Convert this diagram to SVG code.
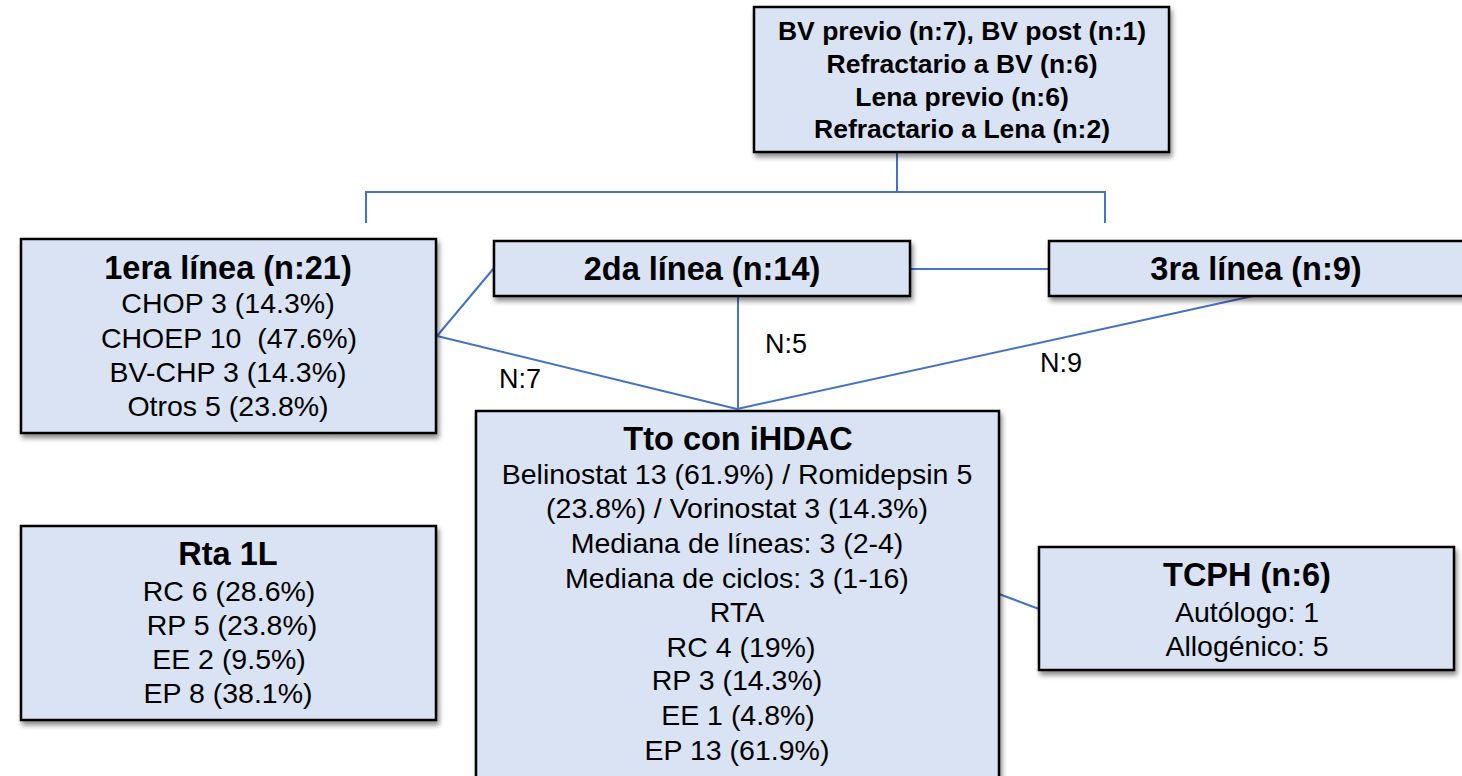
<svg xmlns="http://www.w3.org/2000/svg" width="1462" height="776" viewBox="0 0 1462 776">
<defs>
<filter id="sh" x="-5%" y="-5%" width="115%" height="125%">
<feDropShadow dx="2" dy="4" stdDeviation="2.5" flood-color="#000" flood-opacity="0.45"/>
</filter>
<style>
.box{fill:#DAE3F3;stroke:#000;stroke-width:2.5;filter:url(#sh)}
.t{font-family:"Liberation Sans",Arial,sans-serif;fill:#000;text-anchor:middle}
.r{font-size:28.5px}
.b{font-size:32.5px;font-weight:bold}
.tb{font-size:26.5px;font-weight:bold}
.lbl{font-family:"Liberation Sans",Arial,sans-serif;font-size:27px;fill:#000}
.c{fill:none;stroke:#4472C4;stroke-width:2}
.pre{white-space:pre}
</style>
</defs>
<rect width="1462" height="776" fill="#fff"/>
<g id="connectors">
<path class="c" d="M897,152 V192 M366,223 V192 H1105 V223"/>
<path class="c" d="M437,336 L494,268"/>
<path class="c" d="M437,336 L737,409"/>
<path class="c" d="M738,296 V409"/>
<path class="c" d="M1253,296 L737,409"/>
<path class="c" d="M910,269 H1049"/>
<path class="c" d="M999,594 L1039,609"/>
<text class="lbl" x="499" y="388">N:7</text>
<text class="lbl" x="765" y="353">N:5</text>
<text class="lbl" x="1040" y="372">N:9</text>
</g>
<g id="top">
<rect class="box" x="754" y="7" width="415" height="145"/>
<text class="t tb" x="962" y="40">BV previo (n:7), BV post (n:1)</text>
<text class="t tb" x="962" y="73">Refractario a BV (n:6)</text>
<text class="t tb" x="962" y="106">Lena previo (n:6)</text>
<text class="t tb" x="962" y="138">Refractario a Lena (n:2)</text>
</g>
<g id="linea1">
<rect class="box" x="21" y="239" width="415" height="194"/>
<text class="t b" x="228" y="279">1era línea (n:21)</text>
<text class="t r" x="228" y="313">CHOP 3 (14.3%)</text>
<text class="t r pre" x="229" y="348" xml:space="preserve">CHOEP 10  (47.6%)</text>
<text class="t r" x="228" y="382">BV-CHP 3 (14.3%)</text>
<text class="t r" x="228" y="416">Otros 5 (23.8%)</text>
</g>
<g id="linea2">
<rect class="box" x="494" y="241" width="416" height="55"/>
<text class="t b" x="702" y="280">2da línea (n:14)</text>
</g>
<g id="linea3">
<rect class="box" x="1049" y="241" width="416" height="55"/>
<text class="t b" x="1256" y="280">3ra línea (n:9)</text>
</g>
<g id="rta1l">
<rect class="box" x="21" y="526" width="415" height="194"/>
<text class="t b" x="228" y="565">Rta 1L</text>
<text class="t r" x="229" y="601">RC 6 (28.6%)</text>
<text class="t r" x="232" y="635">RP 5 (23.8%)</text>
<text class="t r" x="229" y="669">EE 2 (9.5%)</text>
<text class="t r" x="228" y="703">EP 8 (38.1%)</text>
</g>
<g id="tto">
<rect class="box" x="476" y="411" width="523" height="380"/>
<text class="t b" x="738" y="450">Tto con iHDAC</text>
<text class="t r" x="737" y="484">Belinostat 13 (61.9%) / Romidepsin 5</text>
<text class="t r" x="737" y="518">(23.8%) / Vorinostat 3 (14.3%)</text>
<text class="t r" x="737" y="553">Mediana de líneas: 3 (2-4)</text>
<text class="t r" x="737" y="588">Mediana de ciclos: 3 (1-16)</text>
<text class="t r" x="737" y="622">RTA</text>
<text class="t r" x="741" y="657">RC 4 (19%)</text>
<text class="t r" x="737" y="690">RP 3 (14.3%)</text>
<text class="t r" x="738" y="725">EE 1 (4.8%)</text>
<text class="t r" x="737" y="760">EP 13 (61.9%)</text>
</g>
<g id="tcph">
<rect class="box" x="1039" y="547" width="415" height="123"/>
<text class="t b" x="1247" y="586">TCPH (n:6)</text>
<text class="t r" x="1247" y="622">Autólogo: 1</text>
<text class="t r" x="1247" y="656">Allogénico: 5</text>
</g>
</svg>
